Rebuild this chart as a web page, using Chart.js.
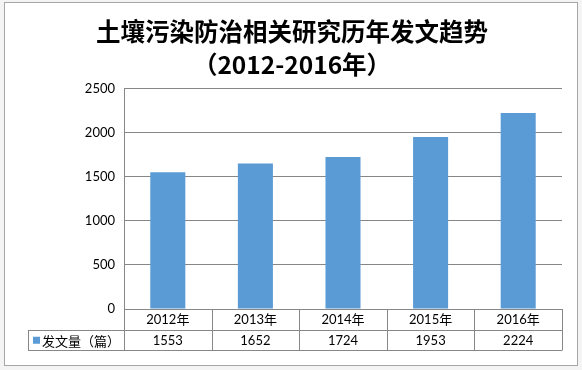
<!DOCTYPE html>
<html>
<head>
<meta charset="utf-8">
<script src="https://cdn.jsdelivr.net/npm/chart.js@4"></script>
<style>
  html, body { margin: 0; padding: 0; background: #f4f4f4; }
  #wrap { position: absolute; left: 0; top: 0; width: 582px; height: 370px; }
</style>
</head>
<body>
<div id="wrap"><canvas id="grafico" width="582" height="370"></canvas></div>
<script>
// datos del grafico
const titulo = ['土壤污染防治相关研究历年发文趋势', '（2012-2016年）'];
const categorias = ['2012年', '2013年', '2014年', '2015年', '2016年'];
const nombreSerie = '发文量（篇）';
const valores = [1553, 1652, 1724, 1953, 2224];
const ejeYMax = 2500;
const ejeYPaso = 500;

const colorBarra = '#5b9bd5';
const colorLinea = '#878787';

// marco exterior + fondo blanco
const marcoPlugin = {
  id: 'marco',
  beforeDraw(chart) {
    const ctx = chart.ctx;
    ctx.save();
    ctx.fillStyle = '#ffffff';
    ctx.fillRect(4, 2, 573, 363);
    ctx.strokeStyle = '#a6a6a6';
    ctx.lineWidth = 1;
    ctx.strokeRect(4.5, 2.5, 573, 363);
    ctx.restore();
  }
};

// tabla de datos debajo del eje x
const tablaPlugin = {
  id: 'tablaDatos',
  afterDraw(chart) {
    const ctx = chart.ctx;
    const x = chart.scales.x;
    const n = categorias.length;
    const ancho = (x.right - x.left) / n;
    const y0 = chart.chartArea.bottom;
    const fila = 20.5;
    const izq = 28;
    ctx.save();
    ctx.strokeStyle = colorLinea;
    ctx.lineWidth = 1;
    ctx.beginPath();
    // lineas horizontales
    ctx.moveTo(izq, Math.round(y0 + fila) + 0.5);
    ctx.lineTo(x.right, Math.round(y0 + fila) + 0.5);
    ctx.moveTo(izq, Math.round(y0 + 2 * fila) + 0.5);
    ctx.lineTo(x.right, Math.round(y0 + 2 * fila) + 0.5);
    // lineas verticales
    for (let i = 0; i <= n; i++) {
      const xx = Math.round(x.left + i * ancho) + 0.5;
      ctx.moveTo(xx, y0);
      ctx.lineTo(xx, Math.round(y0 + 2 * fila) + 0.5);
    }
    ctx.moveTo(izq + 0.5, Math.round(y0 + fila) + 0.5);
    ctx.lineTo(izq + 0.5, Math.round(y0 + 2 * fila) + 0.5);
    ctx.stroke();

    ctx.fillStyle = '#000000';
    ctx.font = '13px Lato, "Noto Sans CJK SC", sans-serif';
    ctx.textAlign = 'center';
    ctx.textBaseline = 'middle';
    categorias.forEach((c, i) => {
      const cx = x.getPixelForValue(i);
      ctx.fillText(c, cx, y0 + fila / 2 + 1);
      ctx.fillText(String(valores[i]), cx, y0 + fila * 1.5 + 1);
    });
    // leyenda
    ctx.fillStyle = colorBarra;
    ctx.fillRect(izq + 5, y0 + fila * 1.5 - 3, 7, 7);
    ctx.fillStyle = '#000000';
    ctx.textAlign = 'left';
    ctx.font = '13px "Noto Sans CJK SC", sans-serif';
    ctx.fillText(nombreSerie, izq + 14, y0 + fila * 1.5 + 1);
    ctx.restore();
  }
};

const ctx = document.getElementById('grafico').getContext('2d');
const chart = new Chart(ctx, {
  type: 'bar',
  data: {
    labels: categorias,
    datasets: [{
      label: nombreSerie,
      data: valores,
      backgroundColor: colorBarra,
      borderWidth: 0,
      barPercentage: 0.8,
      categoryPercentage: 0.5
    }]
  },
  options: {
    responsive: false,
    animation: false,
    layout: { padding: { left: 22, right: 20, top: 16, bottom: 61 } },
    plugins: {
      legend: { display: false },
      tooltip: { enabled: false },
      title: {
        display: true,
        text: titulo,
        color: '#000000',
        font: { family: '"Noto Sans CJK SC", sans-serif', size: 24.5, weight: 'bold', lineHeight: 1.32 },
        padding: { top: 0, bottom: 8 }
      }
    },
    scales: {
      x: {
        ticks: { display: false },
        grid: { display: false, drawTicks: false },
        border: { display: false }
      },
      y: {
        min: 0,
        max: ejeYMax,
        ticks: {
          stepSize: ejeYPaso,
          padding: 9,
          color: '#000000',
          font: { family: 'Lato, sans-serif', size: 13 },
          callback: (v) => String(v)
        },
        grid: { color: colorLinea, drawTicks: false },
        border: { display: true, color: colorLinea },
        afterFit(scale) { scale.width = 102; }
      }
    }
  },
  plugins: [marcoPlugin, tablaPlugin]
});
</script>
</body>
</html>
